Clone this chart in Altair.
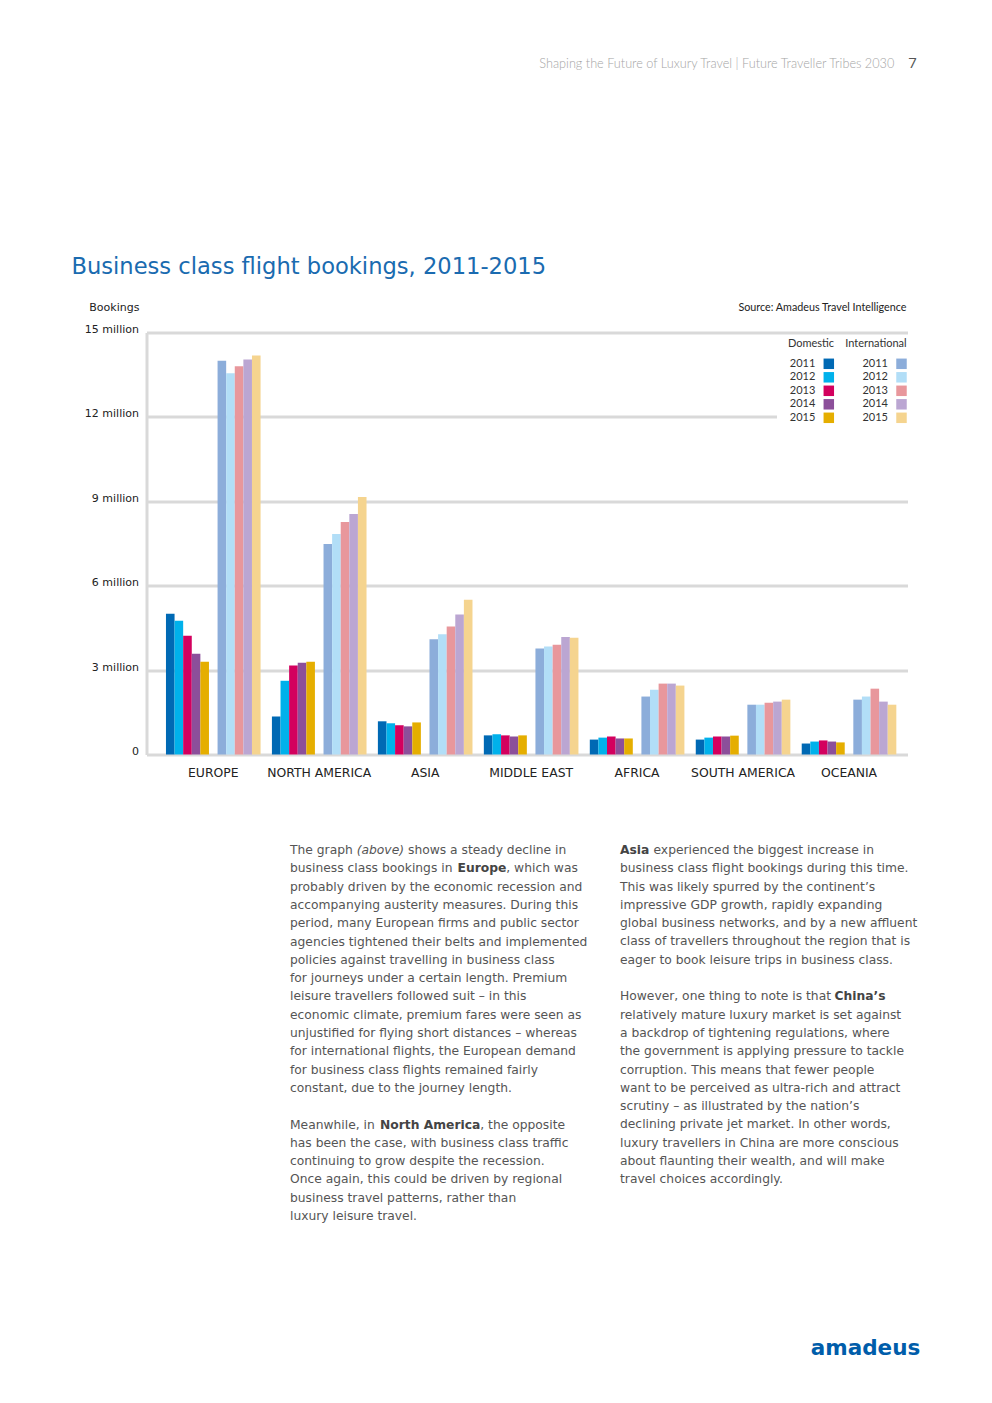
import altair as alt
import pandas as pd

# ---------------- data ----------------
regions = ["EUROPE", "NORTH AMERICA", "ASIA", "MIDDLE EAST", "AFRICA",
           "SOUTH AMERICA", "OCEANIA"]
years = ["2011", "2012", "2013", "2014", "2015"]

# bookings in millions
dom_europe = [5.00, 4.75, 4.22, 3.58, 3.30]
dom_north_america = [1.35, 2.62, 3.16, 3.26, 3.30]
dom_asia = [1.18, 1.11, 1.04, 1.00, 1.14]
dom_middle_east = [0.68, 0.72, 0.68, 0.64, 0.68]
dom_africa = [0.53, 0.60, 0.64, 0.57, 0.57]
dom_south_america = [0.53, 0.60, 0.64, 0.64, 0.67]
dom_oceania = [0.39, 0.46, 0.50, 0.46, 0.43]

int_europe = [14.00, 13.55, 13.80, 14.04, 14.18]
int_north_america = [7.48, 7.84, 8.26, 8.55, 9.15]
int_asia = [4.10, 4.27, 4.55, 4.98, 5.50]
int_middle_east = [3.77, 3.84, 3.90, 4.18, 4.15]
int_africa = [2.06, 2.30, 2.52, 2.52, 2.45]
int_south_america = [1.77, 1.77, 1.84, 1.88, 1.95]
int_oceania = [1.95, 2.06, 2.34, 1.88, 1.77]

dom_colors = ["#0069B4", "#00B1EB", "#D3005E", "#8C4F9A", "#E5AE00"]
int_colors = ["#8CADDA", "#B2DEF7", "#E8979C", "#BBA6D2", "#F5D48F"]
y_ticks = [0, 3, 6, 9, 12, 15]

dom_values = [dom_europe, dom_north_america, dom_asia, dom_middle_east,
              dom_africa, dom_south_america, dom_oceania]
int_values = [int_europe, int_north_america, int_asia, int_middle_east,
              int_africa, int_south_america, int_oceania]

rows = []
for r, dv, iv in zip(regions, dom_values, int_values):
    for yr, a, b in zip(years, dv, iv):
        rows.append(dict(region=r, year=yr, type="Domestic", slot="D" + yr, value=a))
        rows.append(dict(region=r, year=yr, type="International", slot="I" + yr, value=b))
df = pd.DataFrame(rows)
slots = ["D" + y for y in years] + ["gap"] + ["I" + y for y in years]

# ---------------- texts ----------------
header = "Shaping the Future of Luxury Travel | Future Traveller Tribes 2030"
page_no = "7"
title = "Business class flight bookings, 2011-2015"
y_title = "Bookings"
source = "Source: Amadeus Travel Intelligence"

left_p1 = [
    "The graph",
    "business class bookings in",
    "probably driven by the economic recession and",
    "accompanying austerity measures. During this",
    "period, many European firms and public sector",
    "agencies tightened their belts and implemented",
    "policies against travelling in business class",
    "for journeys under a certain length. Premium",
    "leisure travellers followed suit \u2013 in this",
    "economic climate, premium fares were seen as",
    "unjustified for flying short distances \u2013 whereas",
    "for international flights, the European demand",
    "for business class flights remained fairly",
    "constant, due to the journey length.",
]
left_p2 = [
    "Meanwhile, in",
    "has been the case, with business class traffic",
    "continuing to grow despite the recession.",
    "Once again, this could be driven by regional",
    "business travel patterns, rather than",
    "luxury leisure travel.",
]
right_p1 = [
    "business class flight bookings during this time.",
    "This was likely spurred by the continent\u2019s",
    "impressive GDP growth, rapidly expanding",
    "global business networks, and by a new affluent",
    "class of travellers throughout the region that is",
    "eager to book leisure trips in business class.",
]
right_p2 = [
    "However, one thing to note is that",
    "relatively mature luxury market is set against",
    "a backdrop of tightening regulations, where",
    "the government is applying pressure to tackle",
    "corruption. This means that fewer people",
    "want to be perceived as ultra-rich and attract",
    "scrutiny \u2013 as illustrated by the nation\u2019s",
    "declining private jet market. In other words,",
    "luxury travellers in China are more conscious",
    "about flaunting their wealth, and will make",
    "travel choices accordingly.",
]

# ---------------- layout ----------------
X0, Y0 = 146.5, 332.5      # plot origin in page coordinates
W, H = 761, 422
GRID = "#d9d9d9"
BODY = "#555555"
BOLD = "#444444"
BODY_FONT = "DejaVu Sans"
BODY_SIZE = 12.3
LH = 18.3
B0 = 854                   # baseline of first body line
NARROW = "Liberation Sans Narrow, Lato"


def txt(text, px, py, size, font, color, weight="normal", align="left",
        baseline="alphabetic", style="normal", line_height=None):
    kw = dict(text=text, fontSize=size, font=font, color=color,
              fontWeight=weight, align=align, baseline=baseline, fontStyle=style)
    if line_height:
        kw["lineHeight"] = line_height
    return alt.Chart(alt.Data(values=[{}])).mark_text(**kw).encode(
        x=alt.value(px - X0), y=alt.value(py - Y0))


x_enc = alt.X(
    "region:N", sort=regions,
    scale=alt.Scale(domain=regions, paddingInner=0, paddingOuter=0.091, align=0.715),
    axis=alt.Axis(title=None, domain=False, ticks=False, tickSize=0, labelAngle=0,
                  labelPadding=18, labelBaseline="middle", labelFont="DejaVu Sans",
                  labelFontSize=12.4, labelColor="#222222", grid=False))
xo_enc = alt.XOffset("slot:N", scale=alt.Scale(domain=slots, paddingInner=0, paddingOuter=0.66))
y_enc = alt.Y(
    "value:Q", scale=alt.Scale(domain=[0, 15], nice=False, zero=True),
    axis=alt.Axis(title=None, values=y_ticks,
                  labelExpr="datum.value == 0 ? '0' : datum.value + ' million'",
                  ticks=False, tickSize=0, labelPadding=8, labelOffset=-3,
                  labelFont="DejaVu Sans", labelFontSize=11, labelColor="#222222",
                  domain=True, domainColor=GRID, domainWidth=3,
                  grid=True, gridColor=GRID, gridWidth=3))


def legend(lx):
    return alt.Legend(title=None, orient="none", legendX=lx - X0, legendY=358.3 - Y0,
                      symbolType="square", symbolSize=110, symbolStrokeWidth=0,
                      symbolOpacity=1,
                      labelAlign="right", labelOffset={"expr": "-19"}, labelFont=NARROW,
                      labelFontSize=11, labelColor="#333333", rowPadding=1.5,
                      padding=0)


bars_dom = alt.Chart(df).transform_filter("datum.type == 'Domestic'").mark_bar().encode(
    x=x_enc, xOffset=xo_enc, y=y_enc,
    color=alt.Color("year:N", scale=alt.Scale(domain=years, range=dom_colors),
                    legend=legend(823.3)))
bars_int = alt.Chart(df).transform_filter("datum.type == 'International'").mark_bar().encode(
    x=x_enc, xOffset=xo_enc, y=y_enc,
    color=alt.Color("year:N", scale=alt.Scale(domain=years, range=int_colors),
                    legend=legend(896.0)))

legend_bg = alt.Chart(alt.Data(values=[{}])).mark_rect(color="white").encode(
    x=alt.value(777 - X0), x2=alt.value(912 - X0),
    y=alt.value(337 - Y0), y2=alt.value(428 - Y0))

texts = [
    txt(header, 894.3, 68, 12.7, NARROW, "#a5a5a5", weight=300, align="right"),
    txt(page_no, 912.5, 68, 15, "Open Sans", "#555555", align="center"),
    txt(title, 71.5, 274.3, 22.6, "DejaVu Sans", "#1a6bb0"),
    txt(y_title, 89.3, 308.3, 11, "DejaVu Sans", "#222222", baseline="middle"),
    txt(source, 906.5, 308.3, 10.75, NARROW, "#222222", align="right", baseline="middle"),
    txt("Domestic", 811, 344.3, 11, NARROW, "#333333", align="center", baseline="middle"),
    txt("International", 906.7, 344.3, 11, NARROW, "#333333", align="right", baseline="middle"),
    # body text, left column
    txt(left_p1, 290, B0, BODY_SIZE, BODY_FONT, BODY, line_height=LH),
    txt("(above)", 356.7, B0, BODY_SIZE, BODY_FONT, BODY, style="italic"),
    txt("shows a steady decline in", 408, B0, BODY_SIZE, BODY_FONT, BODY),
    txt("Europe", 457.5, B0 + LH, BODY_SIZE, BODY_FONT, BOLD, weight="bold"),
    txt(", which was", 506.3, B0 + LH, BODY_SIZE, BODY_FONT, BODY),
    txt(left_p2, 290, B0 + 15 * LH, BODY_SIZE, BODY_FONT, BODY, line_height=LH),
    txt("North America", 380, B0 + 15 * LH, BODY_SIZE, BODY_FONT, BOLD, weight="bold"),
    txt(", the opposite", 480.3, B0 + 15 * LH, BODY_SIZE, BODY_FONT, BODY),
    # body text, right column
    txt("Asia", 620, B0, BODY_SIZE, BODY_FONT, BOLD, weight="bold"),
    txt("experienced the biggest increase in", 653.5, B0, BODY_SIZE, BODY_FONT, BODY),
    txt(right_p1, 620, B0 + LH, BODY_SIZE, BODY_FONT, BODY, line_height=LH),
    txt(right_p2, 620, B0 + 8 * LH, BODY_SIZE, BODY_FONT, BODY, line_height=LH),
    txt("China\u2019s", 834.5, B0 + 8 * LH, BODY_SIZE, BODY_FONT, BOLD, weight="bold"),
    # logo
    txt("amadeus", 865.5, 1355, 21.5, "DejaVu Sans", "#005DAA", weight="bold", align="center"),
]

chart = alt.layer(bars_dom, bars_int, legend_bg, *texts).resolve_scale(
    color="independent"
).properties(
    width=W, height=H,
    padding={"left": X0 - 8, "top": Y0 - 8, "right": 976 - (X0 - 8) - W,
             "bottom": 1380 - (Y0 - 8) - H},
    autosize=alt.AutoSizeParams(type="none"),
).configure_view(stroke=None)

chart.save("out.html", embed_options={"renderer": "svg", "actions": False})
